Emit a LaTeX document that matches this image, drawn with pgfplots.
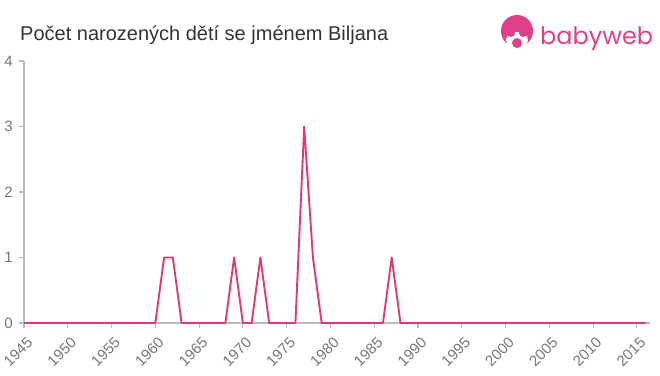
\documentclass[border=0pt]{standalone}
\usepackage{fontspec}
\setmainfont{Liberation Sans}
\newfontfamily\logofont{Poppins}
\usepackage{pgfplots}
\pgfplotsset{compat=1.18}
\definecolor{linec}{HTML}{DC3C6E}
\definecolor{logoc}{HTML}{E0408A}
\definecolor{axc}{HTML}{BBBBBB}
\definecolor{tickc}{HTML}{777777}
\definecolor{titlec}{HTML}{333333}
\begin{document}
\begin{tikzpicture}[x=1bp,y=1bp]
\useasboundingbox (0,0) rectangle (660,375);
\begin{axis}[
  at={(24bp,52bp)}, anchor=south west,
  scale only axis, width=626bp, height=262bp,
  xmin=1945, xmax=2016.5, ymin=0, ymax=4,
  axis x line=bottom, axis y line=left,
  axis line style={-, draw=axc, line width=1.2bp},
  xtick={1945,1950,...,2015}, ytick={0,1,2,3,4},
  tick style={draw=axc, line width=1.2bp},
  tick align=outside, major tick length=5bp,
  /pgf/number format/1000 sep={},
  /pgf/number format/assume math mode=true,
  tick label style={font=\fontsize{15bp}{17bp}\selectfont, text=tickc},
  xticklabel style={rotate=45, anchor=north east, inner sep=1bp, xshift=-3bp, yshift=-6bp},
  yticklabel style={anchor=east, inner sep=0bp, xshift=-6bp},
  clip=false,
]
\addplot[linec, line width=1.9bp, line join=round] coordinates {
(1945,0)(1946,0)(1947,0)(1948,0)(1949,0)(1950,0)(1951,0)(1952,0)(1953,0)(1954,0)
(1955,0)(1956,0)(1957,0)(1958,0)(1959,0)(1960,0)(1961,1)(1962,1)(1963,0)(1964,0)
(1965,0)(1966,0)(1967,0)(1968,0)(1969,1)(1970,0)(1971,0)(1972,1)(1973,0)(1974,0)
(1975,0)(1976,0)(1977,3)(1978,1)(1979,0)(1980,0)(1981,0)(1982,0)(1983,0)(1984,0)
(1985,0)(1986,0)(1987,1)(1988,0)(1989,0)(1990,0)(1991,0)(1992,0)(1993,0)(1994,0)
(1995,0)(1996,0)(1997,0)(1998,0)(1999,0)(2000,0)(2001,0)(2002,0)(2003,0)(2004,0)
(2005,0)(2006,0)(2007,0)(2008,0)(2009,0)(2010,0)(2011,0)(2012,0)(2013,0)(2014,0)
(2015,0)(2016,0)
};
\end{axis}
\node[anchor=base west, inner sep=0, text=titlec, font=\fontsize{20bp}{23bp}\selectfont] at (20,335) {Počet narozených dětí se jménem Biljana};
% logo
\fill[logoc] (517,344) circle (16);
\fill[white] (517,335) ellipse (11 and 8);
\fill[logoc] (511,342) circle (4);
\fill[logoc] (523,342) circle (4);
\fill[logoc] (517,332) circle (5);
\node[anchor=base west, inner sep=0, text=logoc, font=\logofont\fontsize{24bp}{27bp}\selectfont] at (540,331) {babyweb};
\end{tikzpicture}
\end{document}
